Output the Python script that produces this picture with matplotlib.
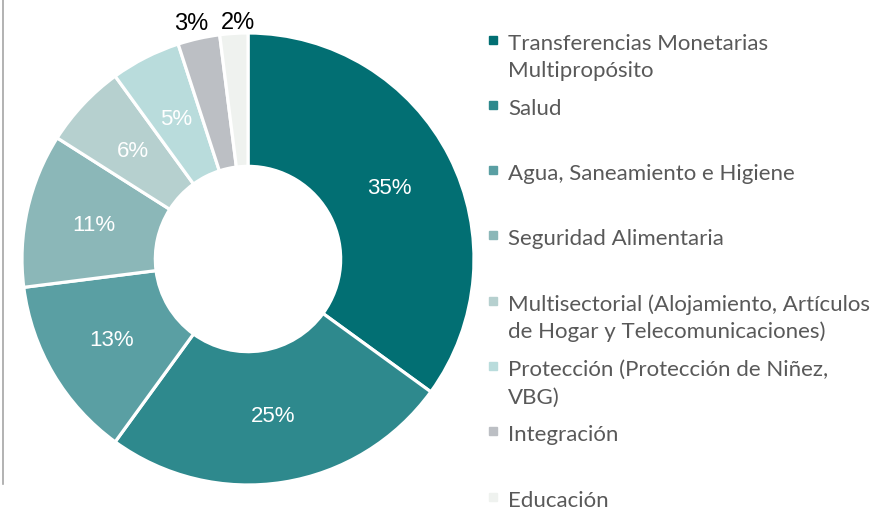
import matplotlib.pyplot as plt
import numpy as np
from matplotlib.lines import Line2D

labels = ['Transferencias Monetarias\nMultipropósito',
          'Salud',
          'Agua, Saneamiento e Higiene',
          'Seguridad Alimentaria',
          'Multisectorial (Alojamiento, Artículos\nde Hogar y Telecomunicaciones)',
          'Protección (Protección de Niñez,\nVBG)',
          'Integración',
          'Educación']
values = [35, 25, 13, 11, 6, 5, 3, 2]
colors = ['#026f73', '#2e898d', '#5a9fa3', '#8bb7b8',
          '#b6d0cf', '#b9dcdc', '#bcbfc4', '#eff2ef']

W, H = 876, 510
fig = plt.figure(figsize=(W / 100, H / 100), dpi=100)

# donut axes: center (248,260) px, radius 226 px
cx, cy, r = 248, 260, 226
ax = fig.add_axes([(cx - r) / W, (H - cy - r) / H, 2 * r / W, 2 * r / H])
wedges, texts, autotexts = ax.pie(
    values, colors=colors, startangle=90, counterclock=False,
    autopct='%d%%', pctdistance=0.70, radius=1.0,
    wedgeprops=dict(width=0.59, edgecolor='white', linewidth=2.3),
    textprops=dict(family='Liberation Sans', fontsize=16, color='white'))
ax.set_xlim(-1, 1)
ax.set_ylim(-1, 1)
ax.set_aspect('auto')

# small slices: labels outside in black
for w, t, d, dx in zip(wedges[-2:], autotexts[-2:], [1.07, 1.05], [-0.02, 0.02]):
    ang = np.deg2rad((w.theta1 + w.theta2) / 2)
    t.set_position((d * np.cos(ang) + dx, d * np.sin(ang)))
    t.set_color('black')
    t.set_fontsize(17)
    t.set_clip_on(False)

# thin gray line on the left
fig.add_artist(Line2D([2.5 / W, 2.5 / W], [(H - 485) / H, 1.0],
                      color='#a6a6a6', linewidth=1.2))

# legend drawn by hand
y0, step, lgap = 41.5, 65.3, 27.5
for i, (lab, col) in enumerate(zip(labels, colors)):
    y = y0 + i * step
    fig.patches.append(plt.Rectangle(((493 - 4) / W, (H - y - 3) / H), 8 / W, 8 / H,
                                     transform=fig.transFigure, color=col))
    for j, line in enumerate(lab.split('\n')):
        fig.text(508 / W, (H - y - j * lgap) / H, line, ha='left', va='center_baseline',
                 family='Lato', fontsize=16, color='#595959')

fig.savefig('out.png', dpi=100)
